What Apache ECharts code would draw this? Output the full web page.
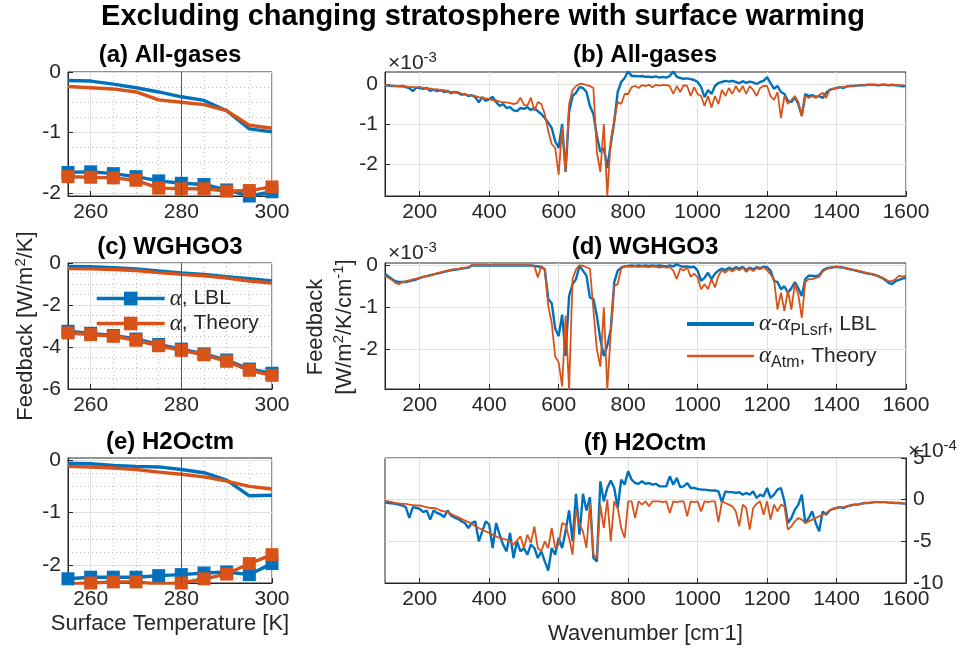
<!DOCTYPE html>
<html><head><meta charset="utf-8">
<script src="https://cdn.jsdelivr.net/npm/echarts@6/dist/echarts.min.js"></script>
<style>html,body{margin:0;padding:0;background:#fff}#c{width:962px;height:649px}</style>
</head><body><div id="c"></div>
<script>
// ---------- data: left panels (feedback vs surface temperature) ----------
const temps = [255,260,265,270,275,280,285,290,295,300];
const tempTicks = [260,280,300];
const tempMinor = [265,270,275,285,290,295];

const aLineLBL    = [-0.14,-0.15,-0.20,-0.26,-0.33,-0.41,-0.47,-0.64,-0.94,-0.99];
const aLineTheory = [-0.24,-0.26,-0.28,-0.33,-0.46,-0.50,-0.54,-0.64,-0.88,-0.93];
const aMarkLBL    = [-1.66,-1.65,-1.68,-1.73,-1.80,-1.84,-1.86,-1.95,-2.05,-1.98];
const aMarkTheory = [-1.73,-1.74,-1.75,-1.79,-1.92,-1.93,-1.93,-1.97,-1.96,-1.90];

const cLineLBL    = [-0.17,-0.18,-0.22,-0.28,-0.38,-0.47,-0.55,-0.65,-0.75,-0.85];
const cLineTheory = [-0.27,-0.28,-0.31,-0.36,-0.46,-0.54,-0.61,-0.72,-0.86,-0.95];
const cMarkLBL    = [-3.25,-3.35,-3.45,-3.62,-3.88,-4.10,-4.33,-4.62,-5.05,-5.25];
const cMarkTheory = [-3.33,-3.41,-3.49,-3.68,-3.94,-4.16,-4.37,-4.68,-5.11,-5.35];

const eLineLBL    = [-0.06,-0.07,-0.10,-0.12,-0.13,-0.18,-0.24,-0.38,-0.68,-0.67];
const eLineTheory = [-0.12,-0.13,-0.15,-0.18,-0.23,-0.27,-0.32,-0.40,-0.50,-0.55];
const eMarkLBL    = [-2.26,-2.23,-2.23,-2.23,-2.20,-2.18,-2.15,-2.13,-2.18,-1.97];
const eMarkTheory = [-2.36,-2.34,-2.32,-2.32,-2.36,-2.34,-2.26,-2.17,-1.97,-1.80];

const aYTicks = [0,-1,-2];     const aYMinor = [-0.25,-0.5,-0.75,-1.25,-1.5,-1.75];
const cYTicks = [0,-2,-4,-6];  const cYMinor = [-0.5,-1,-1.5,-2.5,-3,-3.5,-4.5,-5,-5.5];
const eYTicks = [0,-1,-2];     const eYMinor = [-0.25,-0.5,-0.75,-1.25,-1.5,-1.75,-2.25];

// ---------- data: right panels (spectral feedback vs wavenumber) ----------
const wavenumber = [100,110,120,130,140,150,160,170,180,190,200,210,220,230,240,250,260,270,280,290,300,310,320,330,340,350,360,370,380,390,400,410,420,430,440,450,460,470,480,490,500,510,520,530,540,550,560,570,580,590,600,610,620,630,640,650,660,670,680,690,700,710,720,730,740,750,760,770,780,790,800,810,820,830,840,850,860,870,880,890,900,910,920,930,940,950,960,970,980,990,1000,1010,1020,1030,1040,1050,1060,1070,1080,1090,1100,1110,1120,1130,1140,1150,1160,1170,1180,1190,1200,1210,1220,1230,1240,1250,1260,1270,1280,1290,1300,1310,1320,1330,1340,1350,1360,1370,1380,1390,1400,1410,1420,1430,1440,1450,1460,1470,1480,1490,1500,1510,1520,1530,1540,1550,1560,1570,1580,1590,1600];
const wnTicks = [200,400,600,800,1000,1200,1400,1600];

// (b) All-gases, units of 1e-3
const bLBL = [
-0.03,-0.04,-0.05,-0.05,-0.06,-0.05,-0.08,-0.10,-0.18,-0.09,
-0.10,-0.12,-0.10,-0.17,-0.14,-0.18,-0.15,-0.20,-0.17,-0.23,
-0.20,-0.22,-0.27,-0.25,-0.30,-0.28,-0.33,-0.46,-0.33,-0.42,
-0.38,-0.32,-0.45,-0.55,-0.50,-0.60,-0.58,-0.66,-0.68,-0.60,
-0.62,-0.58,-0.65,-0.60,-0.68,-0.75,-0.85,-0.97,-1.10,-1.43,
-1.60,-1.00,-2.20,-0.70,-0.30,-0.22,-0.08,-0.10,-0.20,-0.55,
-0.75,-1.30,-1.70,-1.60,-2.10,-1.50,-0.95,-0.20,0.05,0.15,
0.32,0.20,0.20,0.19,0.20,0.18,0.18,0.17,0.19,0.16,
0.18,0.16,0.20,0.32,0.18,0.15,0.13,0.14,0.12,0.10,
0.05,-0.08,-0.33,-0.15,-0.25,-0.05,0.03,0.05,0.08,0.06,
0.08,0.05,0.02,0.07,0.03,0.06,0.04,0.00,0.05,0.08,
0.17,0.02,-0.12,-0.05,-0.20,-0.25,-0.42,-0.45,-0.33,-0.50,
-0.80,-0.25,-0.30,-0.28,-0.32,-0.30,-0.35,-0.22,-0.15,-0.12,
-0.10,-0.08,-0.10,-0.06,-0.05,-0.05,-0.04,-0.03,-0.03,-0.02,
-0.02,-0.02,-0.03,-0.02,-0.02,-0.03,-0.02,-0.03,-0.04,-0.06,
-0.05];
const bTheory = [
-0.03,-0.03,-0.04,-0.05,-0.05,-0.06,-0.06,-0.08,-0.07,-0.09,
-0.07,-0.10,-0.12,-0.11,-0.14,-0.13,-0.16,-0.15,-0.20,-0.19,
-0.21,-0.20,-0.24,-0.26,-0.28,-0.29,-0.30,-0.33,-0.35,-0.36,
-0.38,-0.40,-0.41,-0.44,-0.46,-0.46,-0.48,-0.50,-0.48,-0.34,
-0.52,-0.54,-0.34,-0.67,-0.45,-0.50,-0.75,-1.18,-1.50,-1.60,
-2.27,-1.09,-2.20,-0.50,-0.15,-0.05,0.00,0.00,-0.03,-0.05,
-0.10,-1.70,-2.20,-1.00,-2.80,-1.40,-0.90,-0.45,-0.50,-0.25,
-0.25,-0.08,-0.05,-0.10,-0.03,-0.05,-0.02,-0.08,-0.02,-0.04,
-0.02,-0.03,-0.05,-0.25,-0.05,-0.20,-0.03,-0.05,-0.30,-0.08,
-0.25,-0.30,-0.55,-0.30,-0.59,-0.30,-0.50,-0.15,-0.30,-0.10,
-0.25,-0.05,-0.20,-0.05,-0.25,-0.05,-0.15,-0.30,-0.10,-0.05,
-0.05,-0.30,-0.40,-0.20,-0.85,-0.30,-0.50,-0.40,-0.30,-0.45,
-0.80,-0.30,-0.35,-0.30,-0.35,-0.28,-0.22,-0.35,-0.15,-0.12,
-0.10,-0.08,-0.08,-0.06,-0.05,-0.04,-0.04,-0.03,-0.03,-0.02,
-0.02,-0.02,-0.02,-0.02,-0.02,-0.02,-0.02,-0.02,-0.03,-0.03,
-0.04];

// (d) WGHGO3, units of 1e-3
const dLBL = [
-0.20,-0.27,-0.33,-0.38,-0.40,-0.40,-0.40,-0.38,-0.36,-0.34,
-0.31,-0.28,-0.26,-0.24,-0.22,-0.20,-0.18,-0.16,-0.14,-0.12,
-0.11,-0.10,-0.08,-0.07,-0.06,-0.01,-0.01,-0.01,-0.01,-0.01,
-0.01,-0.01,-0.01,-0.01,-0.01,-0.01,-0.01,-0.01,-0.01,-0.01,
-0.01,-0.01,-0.01,-0.02,-0.03,-0.05,-0.10,-0.80,-0.90,-1.50,
-1.68,-1.17,-2.15,-0.73,-0.45,-0.33,-0.02,-0.13,-0.25,-0.77,
-0.80,-1.20,-1.76,-2.15,-1.90,-1.52,-0.41,-0.13,-0.06,-0.03,
-0.02,-0.01,-0.02,-0.01,-0.02,-0.01,-0.02,-0.01,-0.02,-0.01,
-0.02,-0.03,-0.01,-0.03,0.02,-0.02,-0.04,-0.03,-0.05,-0.04,
-0.13,-0.37,-0.30,-0.18,-0.33,-0.20,-0.13,-0.08,-0.12,-0.06,
-0.10,-0.05,-0.08,-0.04,-0.12,-0.06,-0.10,-0.05,-0.07,-0.04,
-0.05,-0.13,-0.37,-0.40,-0.57,-0.50,-0.65,-0.55,-0.40,-0.55,
-0.73,-0.33,-0.25,-0.25,-0.26,-0.24,-0.13,-0.08,-0.06,-0.05,
-0.04,-0.05,-0.06,-0.08,-0.10,-0.12,-0.14,-0.16,-0.18,-0.20,
-0.21,-0.23,-0.26,-0.30,-0.35,-0.42,-0.45,-0.38,-0.35,-0.32,
-0.30];
const dTheory = [
-0.25,-0.30,-0.35,-0.42,-0.45,-0.40,-0.38,-0.36,-0.34,-0.32,
-0.30,-0.28,-0.26,-0.24,-0.22,-0.19,-0.17,-0.15,-0.13,-0.11,
-0.10,-0.09,-0.07,-0.06,-0.05,0.00,0.00,0.00,0.00,0.00,
0.00,0.00,0.00,0.00,0.00,0.00,0.00,0.00,0.00,0.00,
0.00,0.00,0.00,-0.02,-0.29,-0.02,-0.10,-0.97,-1.37,-2.16,
-2.30,-2.87,-1.20,-2.95,-0.33,-0.10,0.00,-0.02,-0.05,-0.08,
-1.05,-2.00,-2.40,-1.00,-2.95,-1.60,-0.49,-0.45,-0.08,-0.03,
-0.03,-0.04,-0.03,-0.05,-0.03,-0.04,-0.05,-0.03,-0.04,-0.06,
-0.04,-0.06,-0.05,-0.13,-0.33,-0.08,-0.13,-0.05,-0.28,-0.20,
-0.29,-0.57,-0.45,-0.57,-0.33,-0.53,-0.25,-0.12,-0.18,-0.10,
-0.15,-0.08,-0.12,-0.06,-0.16,-0.08,-0.14,-0.07,-0.10,-0.05,
-0.12,-0.22,-0.33,-1.05,-0.65,-1.09,-0.60,-1.05,-0.45,-0.70,
-1.25,-0.40,-0.33,-0.33,-0.30,-0.28,-0.15,-0.10,-0.07,-0.05,
-0.04,-0.05,-0.06,-0.08,-0.10,-0.11,-0.13,-0.15,-0.17,-0.19,
-0.21,-0.23,-0.26,-0.29,-0.33,-0.38,-0.38,-0.33,-0.25,-0.27,
-0.25];

// (f) H2Octm, units of 1e-4
const fLBL = [
-0.33,-0.40,-0.45,-0.50,-0.60,-0.70,-0.90,-2.20,-0.90,-1.00,
-1.10,-1.50,-1.30,-2.40,-1.30,-1.60,-1.75,-2.10,-1.30,-1.90,
-2.15,-2.30,-2.60,-2.80,-3.40,-2.80,-2.60,-5.00,-3.80,-2.60,
-3.00,-5.80,-2.80,-4.20,-5.40,-6.20,-4.00,-7.00,-5.00,-6.20,
-5.80,-6.60,-5.40,-5.80,-7.00,-6.20,-7.40,-8.50,-5.80,-6.60,
-4.60,-5.80,-3.80,-1.30,-5.00,0.70,-4.20,0.70,-1.30,0.30,
-7.00,-7.40,2.20,-0.20,1.40,2.30,1.40,-1.00,2.40,1.80,
3.40,2.40,2.00,1.90,2.20,1.90,2.00,1.80,1.90,1.60,
1.60,1.60,2.80,1.80,2.60,1.50,1.60,2.00,1.40,1.40,
1.30,1.20,1.20,1.15,1.10,1.10,1.00,-0.30,1.00,0.90,
0.90,0.80,0.90,0.60,0.80,0.60,1.00,0.20,0.60,0.40,
1.40,0.20,0.60,1.20,1.40,-0.20,-2.80,-2.20,-1.20,-0.60,
0.60,-2.80,-2.20,-1.40,-2.80,-3.80,-1.40,-1.80,-1.30,-1.10,
-1.00,-0.90,-1.00,-0.80,-0.70,-0.60,-0.60,-0.50,-0.40,-0.40,
-0.35,-0.30,-0.30,-0.30,-0.30,-0.35,-0.35,-0.40,-0.40,-0.45,
-0.50];
const fTheory = [
-0.12,-0.20,-0.30,-0.40,-0.45,-0.50,-0.50,-0.60,-0.65,-0.70,
-0.70,-0.80,-0.90,-1.00,-1.00,-1.10,-1.30,-1.40,-1.50,-1.70,
-1.90,-2.10,-2.30,-2.50,-2.70,-2.90,-3.20,-3.40,-3.60,-3.80,
-4.00,-4.20,-4.40,-4.60,-4.70,-4.80,-5.00,-5.40,-4.90,-4.40,
-5.80,-4.20,-5.20,-3.20,-5.80,-6.20,-5.00,-5.80,-3.40,-5.80,
-5.40,-2.80,-3.00,-4.60,-6.60,-1.20,-3.00,-3.80,-5.80,-0.50,
-6.60,-7.00,-0.60,-3.40,0.00,-5.00,-0.20,-1.00,-3.40,-4.60,
-0.20,-0.20,-2.20,-0.20,-0.60,-0.20,-0.80,-0.20,-0.20,-0.20,
-0.30,-0.20,-1.60,-0.20,-0.30,-0.20,-0.20,-2.00,-0.20,-0.30,
-0.20,-1.40,-0.20,-0.30,-0.20,-0.20,-2.70,-0.20,-0.40,-0.60,
-0.80,-1.40,-3.20,-0.60,-1.00,-3.60,-1.00,-0.50,-0.20,-1.80,
-0.20,-2.40,-0.60,-1.40,-0.60,-0.80,-3.60,-3.20,-2.60,-2.20,
-2.40,-2.80,-2.60,-2.40,-2.20,-2.00,-1.80,-1.60,-1.30,-1.10,
-1.00,-0.90,-0.90,-0.80,-0.70,-0.60,-0.60,-0.50,-0.40,-0.40,
-0.35,-0.30,-0.30,-0.30,-0.30,-0.35,-0.35,-0.40,-0.40,-0.45,
-0.50];

// ---------- styling ----------
const BLUE = '#0072BD', ORANGE = '#D95319', INK = '#262626';
const FONT = 'Liberation Sans';
const SERIF = 'Liberation Serif';

const leftGrids = [
  {left:68, top:72, width:204, height:124},
  {left:68, top:263, width:204, height:126},
  {left:68, top:458, width:204, height:125}
];
const rightGrids = [
  {left:385, top:72, width:521, height:124},
  {left:385, top:263, width:521, height:126},
  {left:385, top:458, width:521, height:125}
];
const grids = [];
[0,1,2].forEach(i => { grids.push(leftGrids[i]); grids.push(rightGrids[i]); });
grids.forEach(g => { g.show = true; g.borderColor = INK; g.borderWidth = 1; g.backgroundColor = '#fff'; g.containLabel = false; });

const lblStyle = {fontSize:21, color:INK, fontFamily:FONT, formatter: v => String(v)};

function mainX(gi, opts) {
  return Object.assign({
    gridIndex: gi, type:'value',
    axisLine:{show:true, onZero:false, lineStyle:{color:INK, width:1}},
    axisTick:{show:true, inside:true, length:5, lineStyle:{color:INK}},
    axisLabel:Object.assign({margin:6}, lblStyle),
    splitLine:{show:true, lineStyle:{color:'#e1e1e1', width:1}}
  }, opts);
}
function minorAxis(gi, min, max, vals, pos) {
  return {
    gridIndex: gi, type:'value', min:min, max:max, position:pos,
    axisLine:{show:false}, axisLabel:{show:false},
    axisTick:{show:false, customValues:vals},
    splitLine:{show:true, lineStyle:{color:'#bdbdbd', width:1, type:[1,3]}}
  };
}

const xAxis = [], yAxis = [];
const leftY = [
  {min:-2.05, max:0, ticks:aYTicks, minor:aYMinor},
  {min:-6, max:0, ticks:cYTicks, minor:cYMinor},
  {min:-2.34, max:0.04, ticks:eYTicks, minor:eYMinor}
];
const rightY = [
  {min:-2.8, max:0.3, ticks:[0,-1,-2]},
  {min:-2.93, max:0.05, ticks:[0,-1,-2]},
  {min:-10, max:5, ticks:[5,0,-5,-10]}
];
const xIdx = [], yIdx = [];
for (let r = 0; r < 3; r++) {
  const gl = 2*r, gr = 2*r + 1;
  xIdx[gl] = xAxis.length;
  xAxis.push(mainX(gl, {min:255, max:300,
    axisLabel:Object.assign({margin:6, customValues:tempTicks}, lblStyle),
    axisTick:{show:true, inside:true, length:5, customValues:tempTicks, lineStyle:{color:INK}}}));
  xAxis.push(minorAxis(gl, 255, 300, tempMinor, 'top'));
  yIdx[gl] = yAxis.length;
  yAxis.push(mainX(gl, {min:leftY[r].min, max:leftY[r].max,
    axisLabel:Object.assign({margin:7, customValues:leftY[r].ticks}, lblStyle),
    axisTick:{show:true, inside:true, length:5, customValues:leftY[r].ticks, lineStyle:{color:INK}}}));
  yAxis.push(minorAxis(gl, leftY[r].min, leftY[r].max, leftY[r].minor, 'right'));
  xIdx[gr] = xAxis.length;
  xAxis.push(mainX(gr, {min:100, max:1600,
    axisLabel:Object.assign({margin:6, customValues:wnTicks}, lblStyle),
    axisTick:{show:true, inside:true, length:5, customValues:wnTicks, lineStyle:{color:INK}}}));
  yIdx[gr] = yAxis.length;
  yAxis.push(mainX(gr, {min:rightY[r].min, max:rightY[r].max, position: r === 2 ? 'right' : 'left',
    axisLabel:Object.assign({margin:7, customValues:rightY[r].ticks}, lblStyle),
    axisTick:{show:true, inside:true, length:5, customValues:rightY[r].ticks, lineStyle:{color:INK}}}));
}
xAxis[xIdx[4]].name = 'Surface Temperature [K]';
xAxis[xIdx[4]].nameLocation = 'middle';
xAxis[xIdx[4]].nameGap = 30;
xAxis[xIdx[4]].nameTextStyle = {fontSize:22, color:INK, fontFamily:FONT};
xAxis[xIdx[5]].name = 'Wavenumber [cm{sup|-}1]';
xAxis[xIdx[5]].nameLocation = 'middle';
xAxis[xIdx[5]].nameGap = 38;
xAxis[xIdx[5]].nameTextStyle = {fontSize:22, color:INK, fontFamily:FONT, rich:{sup:{fontSize:15, color:INK, fontFamily:FONT, padding:[0,0,11,0]}}};

const pair = (xs, ys) => xs.map((x, i) => [x, ys[i]]);
const series = [];
function leftSeries(gi, lL, lT, mL, mT) {
  const base = {type:'line', xAxisIndex:xIdx[gi], yAxisIndex:yIdx[gi], animation:false, silent:true};
  series.push(Object.assign({}, base, {name:'lineLBL', data:pair(temps, lL), symbol:'none',
    lineStyle:{color:BLUE, width:3.4}, itemStyle:{color:BLUE},
    markLine:{silent:true, symbol:'none', label:{show:false}, lineStyle:{color:'#555', width:1, type:'solid'}, data:[{xAxis:280}]}}));
  series.push(Object.assign({}, base, {name:'lineTheory', data:pair(temps, lT), symbol:'none',
    lineStyle:{color:ORANGE, width:3.4}, itemStyle:{color:ORANGE}}));
  series.push(Object.assign({}, base, {name:'alphaLBL', data:pair(temps, mL), symbol:'rect', symbolSize:13,
    lineStyle:{color:BLUE, width:3.4}, itemStyle:{color:BLUE}}));
  series.push(Object.assign({}, base, {name:'alphaTheory', data:pair(temps, mT), symbol:'rect', symbolSize:13,
    lineStyle:{color:ORANGE, width:3.4}, itemStyle:{color:ORANGE}}));
}
function rightSeries(gi, L, T) {
  const base = {type:'line', xAxisIndex:xIdx[gi], yAxisIndex:yIdx[gi], animation:false, silent:true, symbol:'none', clip:true};
  series.push(Object.assign({}, base, {name:'specLBL', data:pair(wavenumber, L), lineStyle:{color:BLUE, width:2.4}, itemStyle:{color:BLUE}}));
  series.push(Object.assign({}, base, {name:'specTheory', data:pair(wavenumber, T), lineStyle:{color:ORANGE, width:1.8}, itemStyle:{color:ORANGE}}));
}
leftSeries(0, aLineLBL, aLineTheory, aMarkLBL, aMarkTheory);
rightSeries(1, bLBL, bTheory);
leftSeries(2, cLineLBL, cLineTheory, cMarkLBL, cMarkTheory);
rightSeries(3, dLBL, dTheory);
leftSeries(4, eLineLBL, eLineTheory, eMarkLBL, eMarkTheory);
rightSeries(5, fLBL, fTheory);

const titleStyle = {fontSize:24, fontWeight:'bold', color:'#000', fontFamily:FONT};
const mkTitle = (text, x, y, size) => ({text, left:x, top:y, textAlign:'center', textVerticalAlign:'middle',
  textStyle:Object.assign({}, titleStyle, size ? {fontSize:size} : {}), padding:0});

const supRich = {sup:{fontSize:15, fontFamily:FONT, fill:INK, padding:[0,0,11,0]}};

const option = {
  animation:false,
  backgroundColor:'#fff',
  title:[
    mkTitle('Excluding changing stratosphere with surface warming', 483, 17, 29),
    mkTitle('(a) All-gases', 170, 55),
    mkTitle('(b) All-gases', 645, 55),
    mkTitle('(c) WGHGO3', 170, 247),
    mkTitle('(d) WGHGO3', 645, 247),
    mkTitle('(e) H2Octm', 170, 442),
    mkTitle('(f) H2Octm', 645, 443)
  ],
  grid:grids,
  xAxis:xAxis,
  yAxis:yAxis,
  legend:[
    {data:[{name:'alphaLBL', lineStyle:{width:3.4}}, {name:'alphaTheory', lineStyle:{width:3.4}}],
     orient:'vertical', left:95, top:287, itemWidth:68, itemHeight:17, itemGap:2,
     selectedMode:false, padding:0,
     formatter: n => n === 'alphaLBL' ? '{g|α}, LBL' : '{g|α}, Theory',
     textStyle:{fontSize:21, color:INK, fontFamily:FONT, lineHeight:17,
       rich:{g:{fontFamily:SERIF, fontStyle:'italic', fontSize:23, color:INK}}}},
    {data:[{name:'specLBL', lineStyle:{width:4}, itemStyle:{opacity:0}}, {name:'specTheory', lineStyle:{width:2.5}, itemStyle:{opacity:0}}],
     orient:'vertical', left:685, top:311, itemWidth:67, itemHeight:14, itemGap:4,
     selectedMode:false, padding:0,
     formatter: n => n === 'specLBL' ? '{g|α}-{g|α}{sub|PLsrf}, LBL' : '{g|α}{sub|Atm}, Theory',
     textStyle:{fontSize:21, color:INK, fontFamily:FONT, lineHeight:26,
       rich:{g:{fontFamily:SERIF, fontStyle:'italic', fontSize:23, color:INK},
             sub:{fontSize:16, fontFamily:FONT, color:INK, padding:[14,0,0,0]}}}}
  ],
  graphic:[
    {type:'text', x:26, y:326, rotation:Math.PI/2, silent:true,
     style:{text:'Feedback [W/m{sup|2}/K]', fontSize:22, fontFamily:FONT, fill:INK, align:'center', verticalAlign:'middle', rich:supRich}},
    {type:'text', x:330, y:327, rotation:Math.PI/2, silent:true,
     style:{text:'Feedback\n[W/m{sup|2}/K/cm{sup|-1}]', fontSize:22, lineHeight:29, fontFamily:FONT, fill:INK, align:'center', verticalAlign:'middle', rich:supRich}},
    {type:'text', x:388, y:63, silent:true,
     style:{text:'×10{sup|-3}', fontSize:21, fontFamily:FONT, fill:INK, align:'left', verticalAlign:'middle', rich:supRich}},
    {type:'text', x:388, y:253, silent:true,
     style:{text:'×10{sup|-3}', fontSize:21, fontFamily:FONT, fill:INK, align:'left', verticalAlign:'middle', rich:supRich}},
    {type:'text', x:908, y:451, silent:true,
     style:{text:'×10{sup|-4}', fontSize:21, fontFamily:FONT, fill:INK, align:'left', verticalAlign:'middle', rich:supRich}}
  ],
  series:series
};
const chart = echarts.init(document.getElementById('c'), null, {renderer:'canvas'});
chart.setOption(option);
</script></body></html>
